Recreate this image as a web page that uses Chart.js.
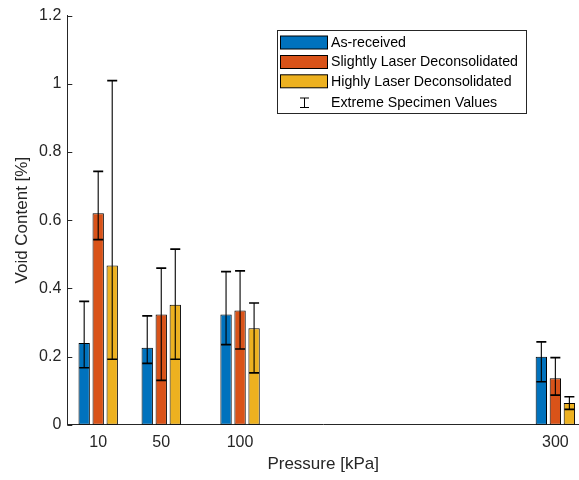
<!DOCTYPE html>
<html>
<head>
<meta charset="utf-8">
<script src="https://cdn.jsdelivr.net/npm/chart.js@4/dist/chart.umd.min.js"></script>
<style>
  html, body { margin: 0; padding: 0; background: #ffffff; }
  #wrap { width: 579px; height: 480px; }
</style>
</head>
<body>
<div id="wrap"><canvas id="c" width="579" height="480"></canvas></div>
<script>
// Pressure levels (kPa) and void content (%) per material condition
const pressures = [10, 50, 100, 300];
const seriesNames = ['As-received', 'Slightly Laser Deconsolidated', 'Highly Laser Deconsolidated'];
const asReceived    = [0.240, 0.226, 0.323, 0.199];
const slightlyDecon = [0.620, 0.323, 0.335, 0.136];
const highlyDecon   = [0.467, 0.352, 0.283, 0.064];

// Extreme specimen values (min / max) for each bar
const asReceivedMin    = [0.167, 0.180, 0.235, 0.126];
const asReceivedMax    = [0.362, 0.319, 0.449, 0.243];
const slightlyDeconMin = [0.543, 0.130, 0.222, 0.087];
const slightlyDeconMax = [0.743, 0.459, 0.451, 0.197];
const highlyDeconMin   = [0.192, 0.192, 0.152, 0.045];
const highlyDeconMax   = [1.009, 0.515, 0.357, 0.082];

const yTicks = [0, 0.2, 0.4, 0.6, 0.8, 1, 1.2];
const errorLegendLabel = 'Extreme Specimen Values';
const xTitle = 'Pressure [kPa]';
const yTitle = 'Void Content [%]';

const seriesValues = [asReceived, slightlyDecon, highlyDecon];
const seriesMin = [asReceivedMin, slightlyDeconMin, highlyDeconMin];
const seriesMax = [asReceivedMax, slightlyDeconMax, highlyDeconMax];
const seriesColors = ['#0072BD', '#D95319', '#EDB120'];

const FONT = "'Liberation Sans', Arial, Helvetica, sans-serif";
const INK = '#262626';

// Min/max whiskers with caps, centred on each bar
const extremesPlugin = {
  id: 'extremes',
  afterDatasetsDraw(chart) {
    const ctx = chart.ctx;
    const yScale = chart.scales.y;
    ctx.save();
    ctx.strokeStyle = '#000000';
    chart.data.datasets.forEach((ds, i) => {
      const meta = chart.getDatasetMeta(i);
      meta.data.forEach((bar, j) => {
        const x = bar.x;
        const yLo = yScale.getPixelForValue(seriesMin[i][j]);
        const yHi = yScale.getPixelForValue(seriesMax[i][j]);
        const half = 5;
        ctx.lineWidth = 1.1;
        ctx.beginPath();
        ctx.moveTo(x, yLo);
        ctx.lineTo(x, yHi);
        ctx.stroke();
        ctx.lineWidth = 1.7;
        ctx.beginPath();
        ctx.moveTo(x - half, yLo); ctx.lineTo(x + half, yLo);
        ctx.moveTo(x - half, yHi); ctx.lineTo(x + half, yHi);
        ctx.stroke();
      });
    });
    ctx.restore();
  }
};

// Inward tick marks on the value axis
const innerTicksPlugin = {
  id: 'innerTicks',
  afterDraw(chart) {
    const ctx = chart.ctx;
    const yScale = chart.scales.y;
    const left = chart.chartArea.left;
    ctx.save();
    ctx.strokeStyle = INK;
    ctx.lineWidth = 1;
    yTicks.forEach(v => {
      const y = Math.round(yScale.getPixelForValue(v)) + 0.5;
      ctx.beginPath();
      ctx.moveTo(left, y);
      ctx.lineTo(left + 5, y);
      ctx.stroke();
    });
    ctx.restore();
  }
};

// Boxed legend with colour swatches and a whisker symbol
const boxLegendPlugin = {
  id: 'boxLegend',
  afterDraw(chart) {
    const ctx = chart.ctx;
    const bx = 277.5, by = 30.5, bw = 249, bh = 83;
    ctx.save();
    ctx.fillStyle = '#ffffff';
    ctx.fillRect(bx, by, bw, bh);
    ctx.strokeStyle = INK;
    ctx.lineWidth = 1;
    ctx.strokeRect(bx, by, bw, bh);

    ctx.font = '14.2px ' + FONT;
    ctx.textBaseline = 'middle';
    ctx.textAlign = 'left';
    const rowY = [42.5, 62, 81.3, 102.5];
    seriesNames.forEach((name, i) => {
      const cy = rowY[i];
      ctx.fillStyle = seriesColors[i];
      ctx.fillRect(280.5, cy - 6.5, 47, 13);
      ctx.strokeStyle = '#000000';
      ctx.strokeRect(280.5, cy - 6.5, 47, 13);
      ctx.fillStyle = '#000000';
      ctx.fillText(name, 331, cy + 0.5);
    });
    // whisker symbol
    const ex = 304, ey = rowY[3];
    ctx.strokeStyle = '#000000';
    ctx.lineWidth = 1;
    ctx.beginPath();
    ctx.moveTo(ex + 0.5, ey - 4.5); ctx.lineTo(ex + 0.5, ey + 5);
    ctx.moveTo(ex - 4, ey - 4.5); ctx.lineTo(ex + 5, ey - 4.5);
    ctx.moveTo(ex - 4, ey + 5); ctx.lineTo(ex + 5, ey + 5);
    ctx.stroke();
    ctx.fillStyle = '#000000';
    ctx.fillText(errorLegendLabel, 331, ey + 0.5);
    ctx.restore();
  }
};

const datasets = seriesNames.map((name, i) => ({
  label: name,
  data: pressures.map((p, j) => ({ x: p, y: seriesValues[i][j] })),
  backgroundColor: seriesColors[i],
  borderColor: '#000000',
  borderWidth: 1,
  borderSkipped: false,
  categoryPercentage: 0.667,
  barPercentage: 0.81
}));

new Chart(document.getElementById('c'), {
  type: 'bar',
  data: { datasets },
  options: {
    responsive: false,
    devicePixelRatio: 1,
    animation: false,
    layout: { padding: { top: 14.7, right: 0, left: 0, bottom: 0 } },
    plugins: {
      legend: { display: false },
      tooltip: { enabled: false }
    },
    scales: {
      x: {
        type: 'linear',
        min: -9.6,
        max: 315,
        offset: false,
        afterBuildTicks: s => { s.ticks = pressures.map(v => ({ value: v })); },
        afterFit: s => { s.height = 55.3; },
        grid: { display: false, drawTicks: false },
        border: { display: true, color: INK, width: 1 },
        ticks: {
          autoSkip: false,
          maxRotation: 0,
          padding: 8,
          color: INK,
          font: { family: FONT, size: 16 },
          callback: v => String(v)
        },
        title: {
          display: true,
          text: xTitle,
          color: INK,
          font: { family: FONT, size: 17 },
          padding: { top: 0, bottom: 5.5 }
        }
      },
      y: {
        type: 'linear',
        min: 0,
        max: 1.2,
        afterBuildTicks: s => { s.ticks = yTicks.map(v => ({ value: v })); },
        afterFit: s => { s.width = 67.3; },
        grid: { display: false, drawTicks: false },
        border: { display: true, color: INK, width: 1 },
        ticks: {
          padding: 6,
          color: INK,
          font: { family: FONT, size: 16 },
          callback: v => String(Math.round(v * 10) / 10)
        },
        title: {
          display: true,
          text: yTitle,
          color: INK,
          font: { family: FONT, size: 17 },
          padding: { top: 12.5, bottom: 0 }
        }
      }
    }
  },
  plugins: [extremesPlugin, innerTicksPlugin, boxLegendPlugin]
});
</script>
</body>
</html>
